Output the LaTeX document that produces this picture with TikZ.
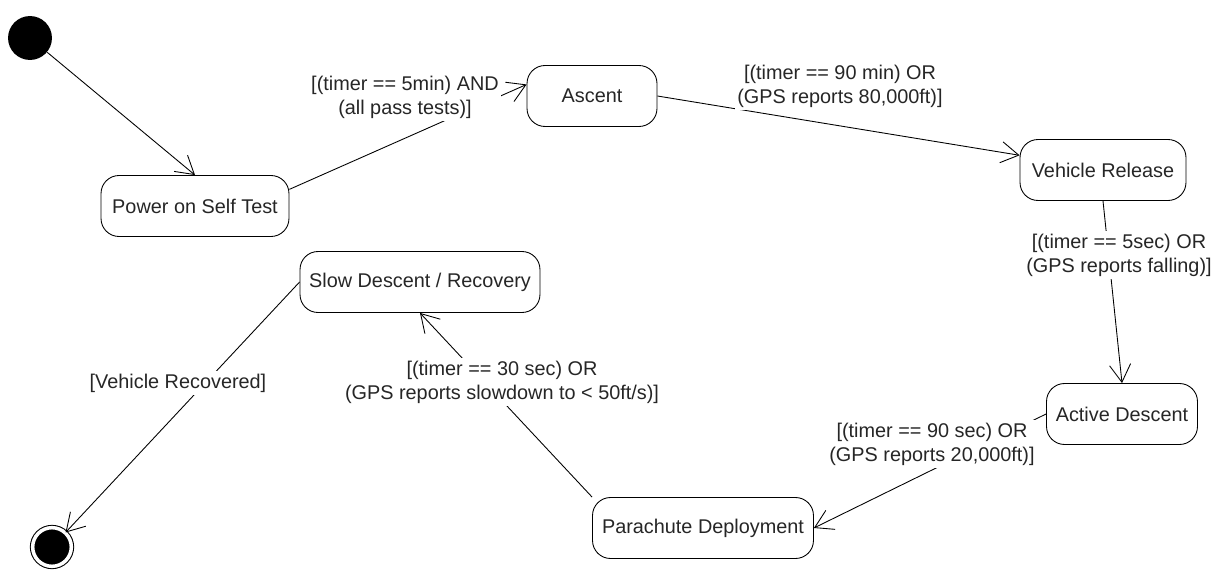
\documentclass[tikz,border=0pt]{standalone}
\usepackage{fontspec}
\setmainfont{Liberation Sans}
\usetikzlibrary{arrows.meta}

\tikzset{
  state/.style={draw, rounded corners=0.36cm, minimum height=1.22cm, inner sep=2pt,
    text=black!85, font=\fontsize{11.3}{13.6}\selectfont},
  guard/.style={fill=white, align=center, inner sep=1.5pt,
    text=black!85, font=\fontsize{11.3}{13.6}\selectfont},
  trans/.style={-{Straight Barb[length=10pt,width=12pt]}},
}

\begin{document}
\begin{tikzpicture}[x=0.02cm, y=-0.02cm, line width=0.5pt]
    \useasboundingbox (0,0) rectangle (1218,571);
    \node[circle, fill=black, minimum size=25pt, inner sep=0pt] (start) at (30,38) {};
    \node[state, minimum width=3.76cm] (pst) at (195,206) {Power on Self Test};
    \node[state, minimum width=2.6cm] (asc) at (592,96) {Ascent};
    \node[state, minimum width=3.32cm] (vr) at (1103,170) {Vehicle Release};
    \node[state, minimum width=3.02cm] (ad) at (1122,414) {Active Descent};
    \node[state, minimum width=4.42cm] (pd) at (703,528) {Parachute Deployment};
    \node[state, minimum width=4.8cm] (sd) at (420,282) {Slow Descent / Recovery};
    \node[circle, draw, line width=0.6pt, fill=black, double=white, double distance=2pt,
      minimum size=22pt, inner sep=0pt] (end) at (52,547) {};
    % upper row
    \draw[trans] (start) -- (pst.north);
    \draw[trans] (pst.10) -- (asc.170)
      node[guard] (g1) at (405,97) {[(timer == 5min) AND\\(all pass tests)]};
    \draw[trans] (asc.east) -- (vr.170)
      node[guard] (g2) at (840,86) {[(timer == 90 min) OR\\(GPS reports 80,000ft)]};
    % right side
    \draw[trans] (vr.south) -- (ad.north)
      node[guard] (g3) at (1119,255) {[(timer == 5sec) OR\\(GPS reports falling)]};
    \draw[trans] (ad.west) -- (pd.east)
      node[guard] (g4) at (932,444) {[(timer == 90 sec) OR\\(GPS reports 20,000ft)]};
    % lower row
    \draw[trans] (pd.north west) -- (sd.south)
      node[guard] (g5) at (502,382) {[(timer == 30 sec) OR\\(GPS reports slowdown to < 50ft/s)]};
    \draw[trans] (sd.west) -- (end)
      node[guard] (g6) at (178,383) {[Vehicle Recovered]};
\end{tikzpicture}
\end{document}
